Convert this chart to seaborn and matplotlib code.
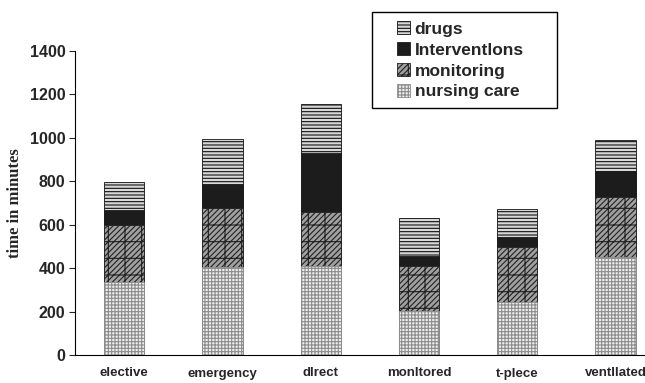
import numpy as np
import pandas as pd
import seaborn as sns
import matplotlib.pyplot as plt
from matplotlib.patches import Patch, Rectangle

# data (minutes per segment)
groups = ['elective', 'emergency', 'dlrect', 'monltored', 't-plece', 'ventllated']
nursing = [336, 405, 410, 203, 244, 451]
monitoring = [263, 272, 249, 207, 253, 277]
interventions = [69, 111, 271, 46, 46, 120]
drugs = [127, 207, 225, 175, 129, 142]
series_names = ['drugs', 'Interventlons', 'monitoring', 'nursing care']
y_ticks = [0, 200, 400, 600, 800, 1000, 1200, 1400]

sns.set_style('white')
plt.rcParams['font.family'] = ['Liberation Sans', 'DejaVu Sans']
plt.rcParams['hatch.linewidth'] = 0.8

fig = plt.figure(figsize=(6.45, 3.83), dpi=100)
ax = fig.add_axes([75 / 645, 28 / 383, 1 - 75 / 645, 304 / 383])

# cumulative tops, drawn largest first so each layer overlays the previous
tops = [
    np.array(nursing) + monitoring + interventions + drugs,
    np.array(nursing) + monitoring + interventions,
    np.array(nursing) + monitoring,
    np.array(nursing),
]
styles = [
    ('#d8d8d8', '#111111', '-----'),
    ('#1c1c1c', '#1c1c1c', None),
    ('#a0a0a0', '#222222', '//////+'),
    ('#eeeeee', '#8c8c8c', '+++++'),
]

df = pd.DataFrame({'group': groups})
for name, top, (fc, hc, hatch) in zip(series_names, tops, styles):
    df['val'] = top
    n_before = len(ax.patches)
    sns.barplot(data=df, x='group', y='val', color=fc, width=0.41, ax=ax,
                edgecolor=hc, linewidth=0.6, saturation=1)
    for p in ax.patches[n_before:]:
        p.set_facecolor(fc)
        p.set_edgecolor(hc)
        if hatch:
            p.set_hatch(hatch)

ax.set_ylim(0, 1400)
ax.set_xlim(-0.5, 5.3)
ax.set_yticks(y_ticks)
ax.set_yticklabels([str(t) for t in y_ticks], fontsize=11.5, fontweight='bold')
ax.set_xticks(np.arange(len(groups)))
ax.set_xticklabels(groups, fontsize=9.5, fontweight='bold')
ax.tick_params(axis='x', which='major', length=0, pad=9)
ax.set_xticks(np.arange(len(groups) - 1) + 0.5, minor=True)
ax.tick_params(axis='x', which='minor', length=4, direction='out', width=0.8)
ax.tick_params(axis='y', length=4, direction='out', width=0.8, left=True, pad=3)
ax.set_xlabel('')
ax.set_ylabel('time in minutes', fontsize=12, fontweight='bold',
              family=['Liberation Serif'], labelpad=5)

for s in ['top', 'right']:
    ax.spines[s].set_visible(False)
for s in ['left', 'bottom']:
    ax.spines[s].set_color('black')
    ax.spines[s].set_linewidth(0.8)

handles = [Patch(facecolor=fc, edgecolor=hc, hatch=hatch, linewidth=0.6, label=name)
           for name, (fc, hc, hatch) in zip(series_names, styles)]
leg = fig.legend(handles=handles, loc='upper left', bbox_to_anchor=(385 / 645, 1 - 9 / 383),
                 frameon=False, handlelength=0.75, handleheight=0.75, handletextpad=0.25,
                 labelspacing=0.32, borderpad=0.2, prop={'weight': 'bold', 'size': 12.5})
# legend frame drawn separately so it can have wider side padding
fig.patches.append(Rectangle((372 / 645, 1 - 108 / 383), 185 / 645, 96 / 383,
                             transform=fig.transFigure, fill=False,
                             edgecolor='black', linewidth=1.0))

fig.savefig('out.png', dpi=100)
